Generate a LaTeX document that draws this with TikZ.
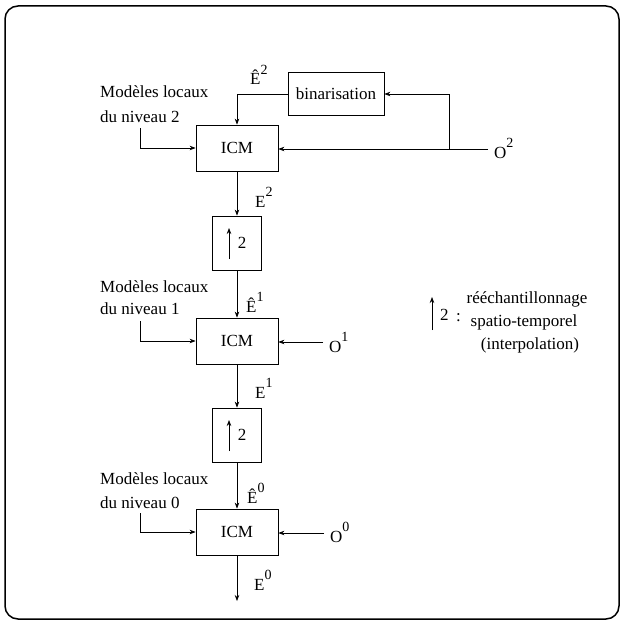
\documentclass[tikz,border=0pt]{standalone}
\usepackage{fontspec}
\setmainfont{Liberation Serif}
\usetikzlibrary{arrows.meta,calc}
% raised index used for E, Ê and O
\newcommand{\expo}[1]{\raisebox{0.64em}{\fontsize{14}{14}\selectfont #1}}

\begin{document}
\begin{tikzpicture}[x=1pt,y=-1pt,
  every node/.style={font=\fontsize{17}{20}\selectfont},
  box/.style={draw, line width=0.8pt, inner sep=0pt, minimum width=82pt, minimum height=46pt},
  upbox/.style={draw, line width=0.8pt, inner sep=0pt, minimum width=49pt, minimum height=54pt},
  flow/.style={line width=0.7pt, -{Stealth[length=6pt,width=4.5pt]}},
  txt/.style={inner sep=0pt, anchor=base west},
  ctr/.style={inner sep=0pt, anchor=base}]

\useasboundingbox (0,0) rectangle (621,623);
\draw[line width=1.5pt, rounded corners=13pt] (5,6) rectangle (619,619);

% processing blocks
\node[draw, line width=0.8pt, minimum width=96pt, minimum height=43pt, inner sep=0pt] (bin) at (336,94) {binarisation};
\node[box] (icm2) at (237,148) {ICM};
\node[upbox] (up2) at (237,243) {};
\node[box] (icm1) at (237,341) {ICM};
\node[upbox] (up1) at (237,435) {};
\node[box] (icm0) at (237,532) {ICM};

% resampling symbol inside the boxes
\foreach \b in {up2,up1} {
  \draw[flow] ($(\b.center)+(-8,16)$) -- ($(\b.center)+(-8,-15)$);
  \node[inner sep=0pt] at ($(\b.center)+(5,0)$) {2};
}

% main vertical chain
\draw[flow] (icm2.south) -- (up2.north);
\draw[flow] (up2.south) -- (icm1.north);
\draw[flow] (icm1.south) -- (up1.north);
\draw[flow] (up1.south) -- (icm0.north);
\coordinate (out) at (237,601);
\draw[flow] (icm0.south) -- (out);

% level 2 observation and binarisation feedback
\draw[flow] (bin.west) -| (icm2.north);
\node[txt] (o2) at (494,158) {O\expo{2}};
\coordinate (o2in) at ($(o2.base west)+(-6,-9)$);
\draw[flow] (o2in) -- (o2in -| icm2.east);
\coordinate (br) at ($(o2in)+(-39,0)$);
\draw[flow] (br) |- (bin.east);

% observations of levels 1 and 0
\node[txt] (o1) at (329,352) {O\expo{1}};
\coordinate (o1in) at ($(o1.base west)+(-6,-10)$);
\draw[flow] (o1in) -- (o1in -| icm1.east);
\node[txt] (o0) at (330,542) {O\expo{0}};
\coordinate (o0in) at ($(o0.base west)+(-6,-9)$);
\draw[flow] (o0in) -- (o0in -| icm0.east);

% local models
\node[txt] (m2a) at (100,98) {Modèles locaux};
\node[txt] (m2b) at (100,122) {du niveau 2};
\draw[flow] ($(m2b.base west)+(40,6)$) |- (icm2.west);
\node[txt] (m1a) at (100,292) {Modèles locaux};
\node[txt] (m1b) at (100,314) {du niveau 1};
\draw[flow] ($(m1b.base west)+(40,7)$) |- (icm1.west);
\node[txt] (m0a) at (100,484) {Modèles locaux};
\node[txt] (m0b) at (100,508) {du niveau 0};
\draw[flow] ($(m0b.base west)+(40,5)$) |- (icm0.west);

% signal labels
\node[txt] (eh2) at (250,85) {Ê\expo{2}};
\node[txt] (e2) at (255,207) {E\expo{2}};
\node[txt] (eh1) at (246,312) {Ê\expo{1}};
\node[txt] (e1) at (255,398) {E\expo{1}};
\node[txt] (eh0) at (247,503) {Ê\expo{0}};
\node[txt] (e0) at (254,590) {E\expo{0}};

% legend
\coordinate (lgA) at (432,330);
\coordinate (lgB) at (432,297);
\draw[flow] (lgA) -- (lgB);
\node[txt] (lg2) at (440,320) {2};
\node[txt] (lgc) at (456,321) {:};
\node[ctr] (lgl1) at (527,303) {rééchantillonnage};
\node[ctr] (lgl2) at (524,326) {spatio-temporel};
\node[ctr] (lgl3) at (530,349) {(interpolation)};
\end{tikzpicture}
\end{document}
